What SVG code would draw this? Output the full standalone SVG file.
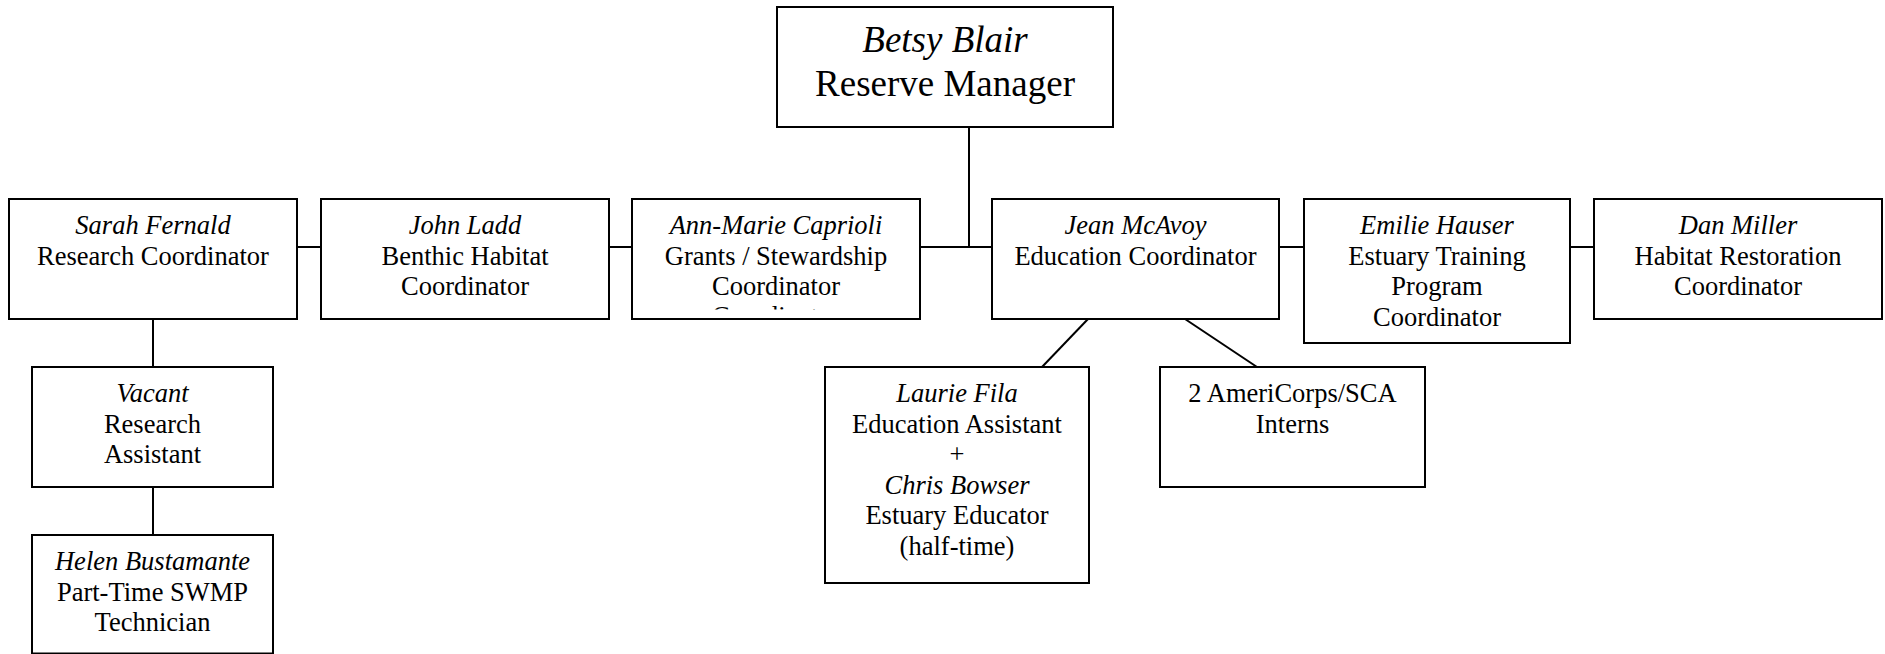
<svg xmlns="http://www.w3.org/2000/svg" width="1885" height="654" viewBox="0 0 1885 654">
<style>
.box{fill:#fff;stroke:#000;stroke-width:2}
.c{stroke:#000;stroke-width:2;fill:none}
text{font-family:"Liberation Serif","Times New Roman",serif;font-size:26.5px;fill:#000;text-anchor:middle}
.i{font-style:italic}
.big{font-size:37px}
</style>
<defs>
<clipPath id="clipAM"><rect x="633" y="200" width="286" height="109.5"/></clipPath>
</defs>
<rect width="1885" height="654" fill="#fff"/>
<g id="connectors">
<line class="c" x1="969" y1="127" x2="969" y2="247"/>
<line class="c" x1="297" y1="247" x2="321" y2="247"/>
<line class="c" x1="609" y1="247" x2="632" y2="247"/>
<line class="c" x1="920" y1="247" x2="992" y2="247"/>
<line class="c" x1="1279" y1="247" x2="1304" y2="247"/>
<line class="c" x1="1570" y1="247" x2="1594" y2="247"/>
<line class="c" x1="153" y1="319" x2="153" y2="367"/>
<line class="c" x1="153" y1="487" x2="153" y2="535"/>
<line class="c" x1="1088" y1="319" x2="1042" y2="367"/>
<line class="c" x1="1185" y1="319" x2="1257" y2="367"/>
</g>
<g id="node-manager">
<rect class="box" x="777" y="7" width="336" height="120"/>
<text class="big i" x="945" y="52">Betsy Blair</text>
<text class="big" x="945" y="96">Reserve Manager</text>
</g>
<g id="node-sarah">
<rect class="box" x="9" y="199" width="288" height="120"/>
<text class="i" x="153" y="234">Sarah Fernald</text>
<text x="153" y="264.5">Research Coordinator</text>
</g>
<g id="node-john">
<rect class="box" x="321" y="199" width="288" height="120"/>
<text class="i" x="465" y="234">John Ladd</text>
<text x="465" y="264.5">Benthic Habitat</text>
<text x="465" y="295">Coordinator</text>
</g>
<g id="node-annmarie">
<rect class="box" x="632" y="199" width="288" height="120"/>
<text class="i" x="776" y="234">Ann-Marie Caprioli</text>
<text x="776" y="264.5">Grants / Stewardship</text>
<text x="776" y="295">Coordinator</text>
<text x="776" y="325" clip-path="url(#clipAM)">Coordinator</text>
</g>
<g id="node-jean">
<rect class="box" x="992" y="199" width="287" height="120"/>
<text class="i" x="1135.5" y="234">Jean McAvoy</text>
<text x="1135.5" y="264.5">Education Coordinator</text>
</g>
<g id="node-emilie">
<rect class="box" x="1304" y="199" width="266" height="144"/>
<text class="i" x="1437" y="234">Emilie Hauser</text>
<text x="1437" y="264.5">Estuary Training</text>
<text x="1437" y="295">Program</text>
<text x="1437" y="325.5">Coordinator</text>
</g>
<g id="node-dan">
<rect class="box" x="1594" y="199" width="288" height="120"/>
<text class="i" x="1738" y="234">Dan Miller</text>
<text x="1738" y="264.5">Habitat Restoration</text>
<text x="1738" y="295">Coordinator</text>
</g>
<g id="node-vacant">
<rect class="box" x="32" y="367" width="241" height="120"/>
<text class="i" x="152.5" y="402">Vacant</text>
<text x="152.5" y="432.5">Research</text>
<text x="152.5" y="463">Assistant</text>
</g>
<g id="node-helen">
<rect class="box" x="32" y="535" width="241" height="118.5"/>
<text class="i" x="152.5" y="570">Helen Bustamante</text>
<text x="152.5" y="600.5">Part-Time SWMP</text>
<text x="152.5" y="631">Technician</text>
</g>
<g id="node-laurie">
<rect class="box" x="825" y="367" width="264" height="216"/>
<text class="i" x="957" y="402">Laurie Fila</text>
<text x="957" y="432.5">Education Assistant</text>
<text x="957" y="463">+</text>
<text class="i" x="957" y="493.5">Chris Bowser</text>
<text x="957" y="524">Estuary Educator</text>
<text x="957" y="554.5">(half-time)</text>
</g>
<g id="node-interns">
<rect class="box" x="1160" y="367" width="265" height="120"/>
<text x="1292.5" y="402">2 AmeriCorps/SCA</text>
<text x="1292.5" y="432.5">Interns</text>
</g>
</svg>
